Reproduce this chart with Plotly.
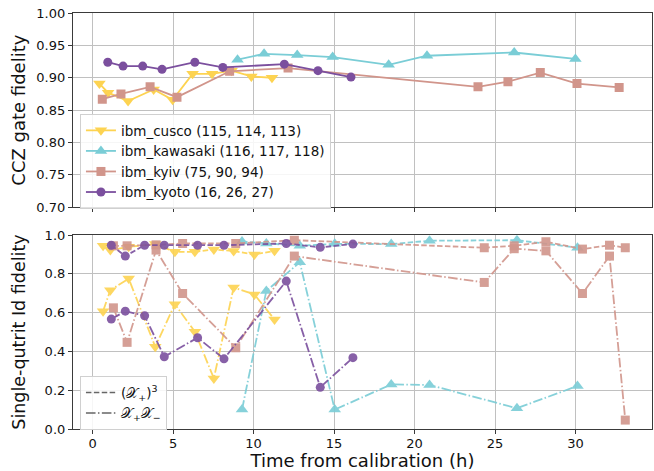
import plotly.graph_objects as go

# ---------------- data ----------------
devices = ["ibm_cusco (115, 114, 113)", "ibm_kawasaki (116, 117, 118)",
           "ibm_kyiv (75, 90, 94)", "ibm_kyoto (16, 26, 27)"]

# top panel: CCZ gate fidelity
cusco_t = [0.42, 0.96, 2.20, 3.79, 4.97, 6.21, 7.42, 8.63, 9.86, 11.14]
cusco_ccz = [0.891, 0.877, 0.864, 0.882, 0.866, 0.906, 0.906, 0.911, 0.902, 0.900]
kawasaki_t = [9.0, 10.65, 12.71, 14.91, 18.39, 20.77, 26.19, 29.99]
kawasaki_ccz = [0.928, 0.937, 0.935, 0.932, 0.920, 0.934, 0.939, 0.929]
kyiv_t = [0.60, 1.76, 3.57, 5.24, 8.51, 12.14, 23.94, 25.80, 27.81, 30.09, 32.71]
kyiv_ccz = [0.867, 0.875, 0.886, 0.870, 0.910, 0.915, 0.886, 0.894, 0.908, 0.891, 0.885]
kyoto_t = [0.94, 1.89, 3.11, 4.31, 6.35, 8.09, 11.91, 14.00, 16.05]
kyoto_ccz = [0.924, 0.918, 0.918, 0.913, 0.924, 0.916, 0.921, 0.911, 0.901]

# bottom panel: single-qutrit Id fidelity
cusco_t2 = [0.65, 1.10, 2.24, 3.89, 5.11, 6.35, 7.53, 8.76, 10.05, 11.30]
cusco_cube = [0.945, 0.923, 0.940, 0.954, 0.914, 0.914, 0.926, 0.918, 0.900, 0.919]
cusco_pm = [0.608, 0.716, 0.776, 0.424, 0.644, 0.502, 0.261, 0.730, 0.694, 0.565]
kawasaki_t2 = [9.28, 10.79, 12.87, 15.04, 18.55, 20.93, 26.36, 30.12]
kawasaki_cube = [0.967, 0.957, 0.945, 0.955, 0.954, 0.971, 0.974, 0.935]
kawasaki_pm = [0.100, 0.712, 0.860, 0.100, 0.230, 0.227, 0.107, 0.222]
kyiv_t2 = [1.29, 2.14, 3.94, 5.59, 8.89, 12.53, 24.33, 26.19, 28.16, 30.43, 32.11, 33.09]
kyiv_cube = [0.945, 0.945, 0.950, 0.957, 0.957, 0.974, 0.935, 0.945, 0.966, 0.928, 0.948, 0.935]
kyiv_pm = [0.625, 0.447, 0.923, 0.699, 0.419, 0.892, 0.756, 0.930, 0.919, 0.699, 0.892, 0.046]
kyoto_t2 = [1.16, 2.03, 3.23, 4.45, 6.52, 8.16, 12.03, 14.14, 16.17]
kyoto_cube = [0.948, 0.892, 0.948, 0.948, 0.948, 0.948, 0.957, 0.937, 0.954]
kyoto_pm = [0.567, 0.608, 0.584, 0.373, 0.471, 0.362, 0.763, 0.215, 0.368]

x_ticks = [0, 5, 10, 15, 20, 25, 30]
ccz_ticks = [0.70, 0.75, 0.80, 0.85, 0.90, 0.95, 1.00]
id_ticks = [0.0, 0.2, 0.4, 0.6, 0.8, 1.0]

# ---------------- style ----------------
colors = ["#FDD351", "#7ACDD6", "#D1958B", "#7B4F9E"]
symbols = ["triangle-down", "triangle-up", "square", "circle"]
msizes = [11, 11, 9, 9]
DASH = "5.5px,2.4px"
DASHDOT = "9.6px,2.4px,1.5px,2.4px"

top_data = [(cusco_t, cusco_ccz), (kawasaki_t, kawasaki_ccz),
            (kyiv_t, kyiv_ccz), (kyoto_t, kyoto_ccz)]
bot_data = [(cusco_t2, cusco_cube, cusco_pm), (kawasaki_t2, kawasaki_cube, kawasaki_pm),
            (kyiv_t2, kyiv_cube, kyiv_pm), (kyoto_t2, kyoto_cube, kyoto_pm)]

fig = go.Figure()

for i, (t, v) in enumerate(top_data):
    fig.add_trace(go.Scatter(
        x=t, y=v, mode="lines+markers", name=devices[i],
        line=dict(color=colors[i], width=1.8),
        marker=dict(symbol=symbols[i], size=msizes[i], color=colors[i]),
        xaxis="x", yaxis="y", legend="legend"))

for i, (t, c, p) in enumerate(bot_data):
    fig.add_trace(go.Scatter(
        x=t, y=c, mode="lines+markers", showlegend=False,
        line=dict(color=colors[i], width=1.8, dash=DASH),
        marker=dict(symbol=symbols[i], size=msizes[i], color=colors[i]),
        opacity=0.9, xaxis="x2", yaxis="y2"))
    fig.add_trace(go.Scatter(
        x=t, y=p, mode="lines+markers", showlegend=False,
        line=dict(color=colors[i], width=1.8, dash=DASHDOT),
        marker=dict(symbol=symbols[i], size=msizes[i], color=colors[i]),
        opacity=0.9, xaxis="x2", yaxis="y2"))

fig.add_trace(go.Scatter(x=[None], y=[None], mode="lines",
                         name="(𝒳<sub>+</sub>)<sup>3</sup>",
                         line=dict(color="#666666", width=1.5, dash=DASH),
                         xaxis="x2", yaxis="y2", legend="legend2"))
fig.add_trace(go.Scatter(x=[None], y=[None], mode="lines",
                         name="𝒳<sub>+</sub>𝒳<sub>−</sub>",
                         line=dict(color="#666666", width=1.5, dash=DASHDOT),
                         xaxis="x2", yaxis="y2", legend="legend2"))

axis_common = dict(showline=True, linecolor="#3a3a3a", linewidth=1.2, mirror=True,
                   ticks="outside", ticklen=4, tickcolor="#3a3a3a", tickwidth=1,
                   showgrid=True, gridcolor="#c0c0c0", gridwidth=1, zeroline=False,
                   automargin=False,
                   tickfont=dict(size=13, color="#111111"))

XR = [-1.22, 34.75]
fig.update_layout(
    width=654, height=471,
    margin=dict(l=73, r=2, t=13, b=42),
    paper_bgcolor="white", plot_bgcolor="white",
    font=dict(family="DejaVu Sans", color="#111111"),
    xaxis=dict(domain=[0, 1], anchor="y", range=XR, tickvals=x_ticks,
               showticklabels=False, **axis_common),
    yaxis=dict(domain=[0.533, 1], anchor="x", range=[0.70, 1.00], tickvals=ccz_ticks,
               tickformat=".2f",
               title=dict(text="CCZ gate fidelity", font=dict(size=18), standoff=6),
               **axis_common),
    xaxis2=dict(domain=[0, 1], anchor="y2", range=XR, tickvals=x_ticks,
                ticklabelstandoff=-2,
                title=dict(text="Time from calibration (h)", font=dict(size=18), standoff=7),
                **axis_common),
    yaxis2=dict(domain=[0, 0.466], anchor="x2", range=[0.0, 1.0], tickvals=id_ticks,
                tickformat=".1f",
                title=dict(text="Single-qutrit Id fidelity", font=dict(size=17.5), standoff=14),
                **axis_common),
    legend=dict(x=0.012, y=0.757, xanchor="left", yanchor="top",
                bgcolor="rgba(255,255,255,0.85)", bordercolor="#d0d0d0", borderwidth=1,
                font=dict(size=13.5), tracegroupgap=0, itemwidth=30),
    legend2=dict(x=0.012, y=0.127, xanchor="left", yanchor="top",
                 bgcolor="rgba(255,255,255,0.85)", bordercolor="#d0d0d0", borderwidth=1,
                 font=dict(size=13.5), tracegroupgap=0, itemwidth=30),
)

fig.write_html("out.html", config={"displayModeBar": False},
               post_script="document.body.style.margin='0';document.body.style.overflow='hidden';")
